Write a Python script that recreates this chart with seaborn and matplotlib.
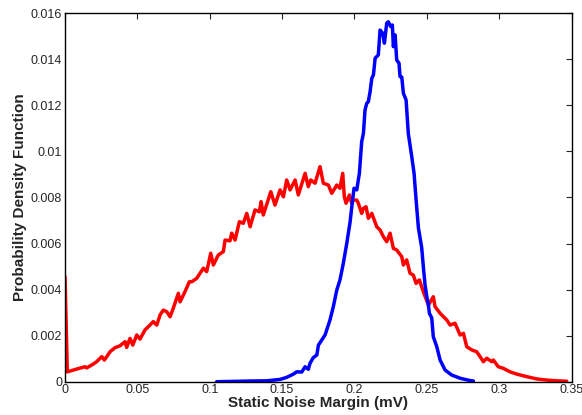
import matplotlib
matplotlib.use("Agg")
import matplotlib.pyplot as plt
import seaborn as sns
import pandas as pd

# Red curve (broad distribution)
red_x = [0.0, 0.0016, 0.0081, 0.0138, 0.0150, 0.0196, 0.0219, 0.0254, 0.0272, 0.0311,
         0.0346, 0.0380, 0.0415, 0.0426, 0.0449, 0.0468, 0.0496, 0.0518, 0.0553, 0.0587,
         0.0610, 0.0634, 0.0657, 0.0679, 0.0703, 0.0726, 0.0748, 0.0783, 0.0795, 0.0829,
         0.0859, 0.0876, 0.0910, 0.0956, 0.0979, 0.1007, 0.1025, 0.1059, 0.1094, 0.1106,
         0.1140, 0.1152, 0.1175, 0.1205, 0.1232, 0.1256, 0.1279, 0.1313, 0.1343, 0.1355,
         0.1370, 0.1422, 0.1451, 0.1486, 0.1509, 0.1532, 0.1555, 0.1590, 0.1612, 0.1659,
         0.1681, 0.1698, 0.1728, 0.1762, 0.1785, 0.1820, 0.1843, 0.1878, 0.1900, 0.1919,
         0.1930, 0.1942, 0.1965, 0.1981, 0.1992, 0.2016, 0.2027, 0.2050, 0.2062, 0.2080,
         0.2096, 0.2120, 0.2154, 0.2177, 0.2200, 0.2223, 0.2246, 0.2269, 0.2292, 0.2327,
         0.2338, 0.2361, 0.2384, 0.2407, 0.2426, 0.2449, 0.2476, 0.2511, 0.2545, 0.2557,
         0.2592, 0.2638, 0.2661, 0.2695, 0.2730, 0.2753, 0.2776, 0.2811, 0.2845, 0.2868,
         0.2891, 0.2914, 0.2949, 0.2960, 0.2994, 0.3029, 0.3075, 0.3122, 0.3191, 0.3260,
         0.3329, 0.3398, 0.3467]
red_y = [0.00455, 0.00043, 0.00055, 0.00065, 0.00060, 0.00077, 0.00087, 0.00109, 0.00094, 0.00130,
         0.00148, 0.00156, 0.00174, 0.00149, 0.00188, 0.00159, 0.00203, 0.00185, 0.00225, 0.00246,
         0.00261, 0.00246, 0.00290, 0.00311, 0.00304, 0.00282, 0.00319, 0.00384, 0.00347, 0.00391,
         0.00434, 0.00434, 0.00449, 0.00493, 0.00478, 0.00558, 0.00507, 0.00550, 0.00565, 0.00615,
         0.00612, 0.00645, 0.00615, 0.00695, 0.00688, 0.00731, 0.00673, 0.00746, 0.00738, 0.00782,
         0.00724, 0.00825, 0.00767, 0.00833, 0.00803, 0.00876, 0.00833, 0.00876, 0.00811, 0.00905,
         0.00847, 0.00876, 0.00862, 0.00934, 0.00862, 0.00854, 0.00818, 0.00854, 0.00840, 0.00905,
         0.00803, 0.00775, 0.00811, 0.00775, 0.00789, 0.00789, 0.00775, 0.00731, 0.00753, 0.00760,
         0.00710, 0.00731, 0.00673, 0.00659, 0.00630, 0.00608, 0.00645, 0.00579, 0.00572, 0.00543,
         0.00507, 0.00529, 0.00471, 0.00463, 0.00427, 0.00442, 0.00391, 0.00333, 0.00369, 0.00326,
         0.00297, 0.00268, 0.00246, 0.00254, 0.00203, 0.00210, 0.00152, 0.00138, 0.00130, 0.00109,
         0.00087, 0.00102, 0.00087, 0.00094, 0.00065, 0.00058, 0.00043, 0.00033, 0.00022, 0.00012,
         0.00007, 0.00004, 0.00002]

# Blue curve (narrow distribution)
blue_x = [0.1048, 0.1279, 0.1394, 0.1486, 0.1532, 0.1578, 0.1601, 0.1636, 0.1659, 0.1681,
          0.1693, 0.1716, 0.1740, 0.1751, 0.1774, 0.1797, 0.1831, 0.1854, 0.1878, 0.1900,
          0.1923, 0.1947, 0.1970, 0.1983, 0.1997, 0.2016, 0.2034, 0.2050, 0.2062, 0.2073,
          0.2085, 0.2096, 0.2108, 0.2120, 0.2131, 0.2143, 0.2165, 0.2177, 0.2196, 0.2207,
          0.2223, 0.2234, 0.2251, 0.2262, 0.2269, 0.2281, 0.2292, 0.2308, 0.2315, 0.2327,
          0.2338, 0.2357, 0.2372, 0.2396, 0.2412, 0.2426, 0.2442, 0.2465, 0.2476, 0.2488,
          0.2500, 0.2511, 0.2518, 0.2534, 0.2545, 0.2569, 0.2592, 0.2626, 0.2672, 0.2730,
          0.2799, 0.2822]
blue_y = [0.0, 0.00003, 0.00004, 0.00010, 0.00019, 0.00033, 0.00043, 0.00042, 0.00065, 0.00054,
          0.00080, 0.00105, 0.00116, 0.00159, 0.00181, 0.00203, 0.00268, 0.00326, 0.00398, 0.00442,
          0.00514, 0.00601, 0.00694, 0.00767, 0.00840, 0.00833, 0.00905, 0.01042, 0.01079, 0.01180,
          0.01209, 0.01216, 0.01259, 0.01318, 0.01332, 0.01405, 0.01419, 0.01527, 0.01513, 0.01470,
          0.01557, 0.01563, 0.01542, 0.01549, 0.01455, 0.01506, 0.01397, 0.01383, 0.01325, 0.01323,
          0.01253, 0.01223, 0.01079, 0.00977, 0.00905, 0.00789, 0.00668, 0.00581, 0.00499, 0.00420,
          0.00369, 0.00333, 0.00297, 0.00277, 0.00195, 0.00152, 0.00094, 0.00051, 0.00029, 0.00015,
          0.00005, 0.00003]

x_ticks = [0, 0.05, 0.1, 0.15, 0.2, 0.25, 0.3, 0.35]
x_tick_labels = ["0", "0.05", "0.1", "0.15", "0.2", "0.25", "0.3", "0.35"]
y_ticks = [0, 0.002, 0.004, 0.006, 0.008, 0.010, 0.012, 0.014, 0.016]
y_tick_labels = ["0", "0.002", "0.004", "0.006", "0.008", "0.01", "0.012", "0.014", "0.016"]

sns.set_style("white")
plt.rcParams["font.family"] = ["Liberation Sans", "DejaVu Sans"]

fig = plt.figure(figsize=(5.82, 4.15), dpi=100)
ax = fig.add_axes([0.1117, 0.0802, 0.8703, 0.8878])

red_df = pd.DataFrame({"x": red_x, "y": red_y})
blue_df = pd.DataFrame({"x": blue_x, "y": blue_y})
sns.lineplot(data=red_df, x="x", y="y", ax=ax, color="#ff0000", linewidth=2.5, sort=False)
sns.lineplot(data=blue_df, x="x", y="y", ax=ax, color="#0000ff", linewidth=2.5, sort=False)

ax.set_xlim(0, 0.35)
ax.set_ylim(0, 0.016)
ax.set_xticks(x_ticks)
ax.set_xticklabels(x_tick_labels)
ax.set_yticks(y_ticks)
ax.set_yticklabels(y_tick_labels)
ax.tick_params(direction="in", length=4, width=0.8, labelsize=9, colors="#262626",
               top=True, right=True, pad=2)
for s in ax.spines.values():
    s.set_color("black")
    s.set_linewidth(1.0)
    s.set_visible(True)

ax.set_xlabel("Static Noise Margin (mV)", fontsize=11, fontweight="bold", labelpad=0)
ax.set_ylabel("Probability Density Function", fontsize=11, fontweight="bold", labelpad=3)

fig.savefig("out.png", dpi=100)
